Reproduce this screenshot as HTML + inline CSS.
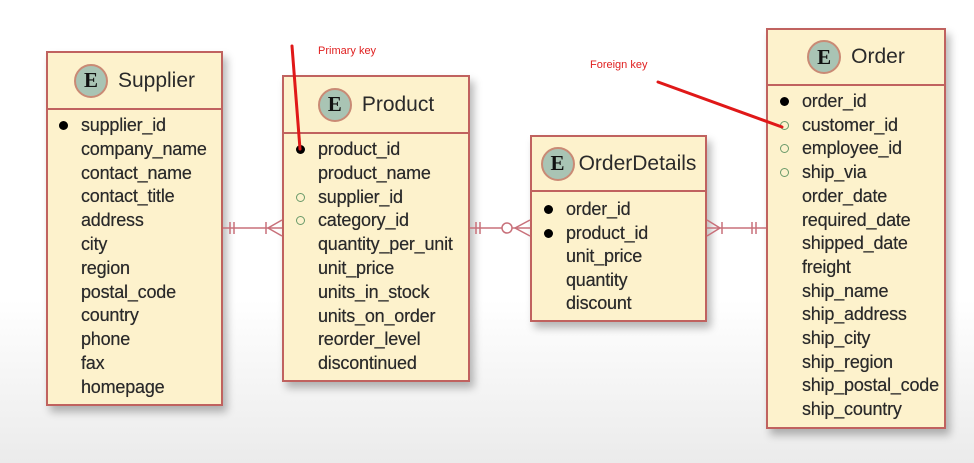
<!DOCTYPE html>
<html><head><meta charset="utf-8"><style>
body{margin:0;width:974px;height:463px;overflow:hidden;position:relative;font-family:"Liberation Sans",sans-serif;background:linear-gradient(#fff 0,#fff 300px,#ebebeb 463px);}
.box{position:absolute;background:#fdf2cc;border:2px solid #c0625f;box-shadow:4px 6px 8px rgba(0,0,0,0.28);box-sizing:border-box;}
.hd{border-bottom:2px solid #c0625f;display:flex;align-items:center;justify-content:center;font-size:21px;color:#2a2a2a;}
.e{width:34px;height:34px;border-radius:50%;background:#a9c4b4;border:2px solid #c98a75;box-sizing:border-box;display:flex;align-items:center;justify-content:center;font-family:"Liberation Serif",serif;font-weight:bold;font-size:21px;margin-right:10px;color:#111;}
.r{position:absolute;font-size:18px;color:#2a2a2a;white-space:nowrap;letter-spacing:-0.2px;text-shadow:0 0 0.4px #333;}
.pk,.fk{position:absolute;left:-22px;top:6px;width:9px;height:9px;border-radius:50%;box-sizing:border-box;}
.pk{background:#000;}
.fk{border:1.5px solid #6a9a6a;}
.lbl{position:absolute;color:#e02020;font-size:11px;}
</style></head><body>

<div class="box" style="left:46px;top:51px;width:177px;height:355px">
<div class="hd" style="height:55px"><span class="e">E</span>Supplier</div>
</div>
<div class="box" style="left:282px;top:75px;width:188px;height:307px">
<div class="hd" style="height:55px"><span class="e">E</span>Product</div>
</div>
<div class="box" style="left:530px;top:135px;width:177px;height:187px">
<div class="hd" style="height:53px"><span class="e" style="margin-right:4px">E</span>OrderDetails</div>
</div>
<div class="box" style="left:766px;top:28px;width:180px;height:401px">
<div class="hd" style="height:54px"><span class="e">E</span>Order</div>
</div>

<div id="rows"></div>

<svg width="974" height="463" style="position:absolute;left:0;top:0" fill="none">
<g stroke="#c8707a" stroke-width="1.5">
<line x1="223" y1="228" x2="282" y2="228"/><line x1="230" y1="222" x2="230" y2="234"/><line x1="234" y1="222" x2="234" y2="234"/>
<line x1="266" y1="222" x2="266" y2="234"/><line x1="282" y1="220" x2="268" y2="228"/><line x1="282" y1="236" x2="268" y2="228"/>
<line x1="470" y1="228" x2="530" y2="228"/><line x1="476" y1="222" x2="476" y2="234"/><line x1="480" y1="222" x2="480" y2="234"/>
<circle cx="507" cy="228" r="5" fill="#fff"/><line x1="530" y1="220" x2="515" y2="228"/><line x1="530" y1="236" x2="515" y2="228"/>
<line x1="707" y1="228" x2="766" y2="228"/><line x1="707" y1="220" x2="720" y2="228"/><line x1="707" y1="236" x2="720" y2="228"/><line x1="722" y1="222" x2="722" y2="234"/>
<line x1="752" y1="222" x2="752" y2="234"/><line x1="756" y1="222" x2="756" y2="234"/>
</g>
<g stroke="#e01818" stroke-width="3" stroke-linecap="round">
<line x1="292" y1="46" x2="300" y2="149"/>
<line x1="658" y1="82" x2="782" y2="127"/>
</g>
</svg>
<div class="lbl" style="left:318px;top:45px">Primary key</div>
<div class="lbl" style="left:590px;top:59px">Foreign key</div>

<script>
const T=[
[81,115,23.8,[["p","supplier_id"],"company_name","contact_name","contact_title","address","city","region","postal_code","country","phone","fax","homepage"]],
[318,139,23.8,[["p","product_id"],"product_name",["f","supplier_id"],["f","category_id"],"quantity_per_unit","unit_price","units_in_stock","units_on_order","reorder_level","discontinued"]],
[566,199,23.5,[["p","order_id"],["p","product_id"],"unit_price","quantity","discount"]],
[802,91,23.7,[["p","order_id"],["f","customer_id"],["f","employee_id"],["f","ship_via"],"order_date","required_date","shipped_date","freight","ship_name","ship_address","ship_city","ship_region","ship_postal_code","ship_country"]]];
let h="";
for(const [x,y,s,rs] of T){rs.forEach((r,i)=>{let m="",t=r;if(Array.isArray(r)){m=`<span class="${r[0]=="p"?"pk":"fk"}"></span>`;t=r[1];}
h+=`<div class="r" style="left:${x}px;top:${(y+i*s).toFixed(1)}px">${m}${t}</div>`;});}
document.getElementById("rows").innerHTML=h;
</script>
</body></html>
